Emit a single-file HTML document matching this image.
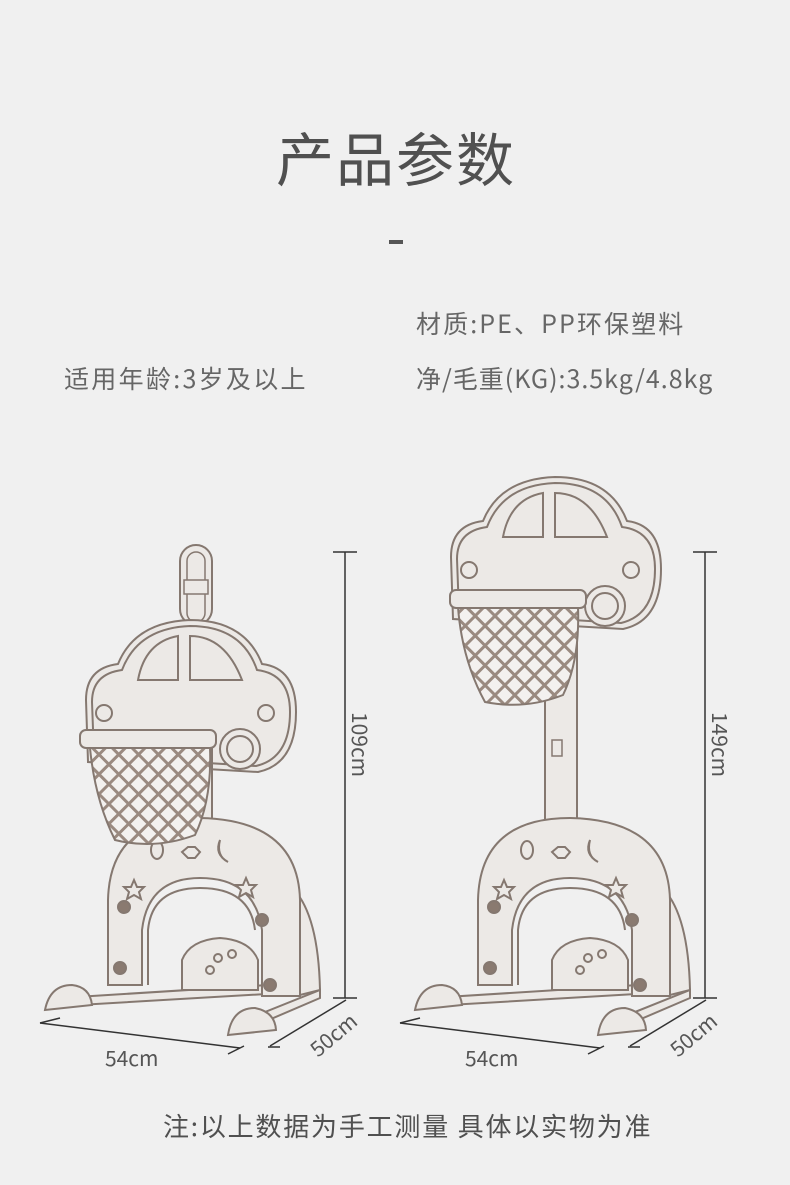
<!DOCTYPE html>
<html><head><meta charset="utf-8">
<style>
html,body{margin:0;padding:0;}
body{width:790px;height:1185px;background:#f0f0f0;position:relative;overflow:hidden;font-family:"Noto Sans CJK SC","Liberation Sans",sans-serif;color:#555;}
.t{position:absolute;white-space:nowrap;line-height:1.2;}
</style></head><body>
<div class="t" style="left:276px;top:122px;font-size:58px;color:#505050;letter-spacing:2px;">产品参数</div>
<div style="position:absolute;left:389px;top:240px;width:14px;height:4px;background:#555;"></div>
<div class="t" style="left:416px;top:308px;font-size:25px;color:#666;letter-spacing:2.1px;">材质:PE、PP环保塑料</div>
<div class="t" style="left:64px;top:363px;font-size:25px;color:#666;letter-spacing:2.3px;">适用年龄:3岁及以上</div>
<div class="t" style="left:416px;top:363px;font-size:25px;color:#666;letter-spacing:1px;">净/毛重(KG):3.5kg/4.8kg</div>
<div class="t" style="left:163px;top:1110px;font-size:26px;color:#505050;letter-spacing:1.8px;">注:以上数据为手工测量 具体以实物为准</div>

<svg width="790" height="1185" style="position:absolute;left:0;top:0" xmlns="http://www.w3.org/2000/svg">
<defs>
<pattern id="net" width="14" height="14" patternUnits="userSpaceOnUse" patternTransform="rotate(45)">
<rect width="14" height="14" fill="#f3f1ef"/>
<rect x="0" y="0" width="14" height="3" fill="#9a8a80"/>
<rect x="0" y="0" width="3" height="14" fill="#9a8a80"/>
</pattern>
<g id="car" fill="#ece9e6" stroke="#857870" stroke-width="2">
<path d="M88,762 L86,700 Q86,668 118,664 Q135,622 190,620 Q245,620 262,664 Q296,668 296,712 Q296,764 258,772 Z"/>
<path d="M94,756 L92,702 Q92,674 122,670 Q138,628 190,626 Q242,626 257,670 Q290,674 290,712 Q290,758 256,766 Z" fill="none"/>
<path d="M138,680 Q145,642 178,636 L178,680 Z"/>
<path d="M190,636 Q225,636 242,680 L190,680 Z"/>
<circle cx="240" cy="749" r="20"/><circle cx="240" cy="749" r="13"/>
<circle cx="104" cy="713" r="8"/><circle cx="266" cy="713" r="8"/>
</g>
<g id="base" fill="#ece9e6" stroke="#857870" stroke-width="2">
<path d="M60,998 L300,983 L300,992 L62,1006 Z"/>
<path d="M245,1020 L320,990 L320,998 L250,1028 Z"/>
<path d="M282,880 Q318,900 320,990 L300,995 Z"/>
<path d="M108,985 L108,900 Q110,818 200,818 Q298,820 300,900 L300,996 L262,996 L262,930 Q255,878 200,878 Q148,878 142,930 L142,985 Z"/>
<path d="M148,985 L148,930 Q152,888 200,888 Q250,888 255,930" fill="none"/>
<path d="M182,960 Q190,940 220,938 Q250,940 258,960 L258,990 L182,990 Z"/>
<circle cx="124" cy="907" r="6" fill="#8a7a70"/><circle cx="120" cy="968" r="6" fill="#8a7a70"/>
<circle cx="262" cy="920" r="6" fill="#8a7a70"/><circle cx="270" cy="985" r="6" fill="#8a7a70"/>
<circle cx="218" cy="958" r="4"/><circle cx="232" cy="954" r="4"/><circle cx="210" cy="970" r="4"/>
<path d="M134,880 l3,7 7,0 -5,5 2,7 -7,-4 -7,4 2,-7 -5,-5 7,0 Z"/>
<path d="M246,878 l3,7 7,0 -5,5 2,7 -7,-4 -7,4 2,-7 -5,-5 7,0 Z"/>
<ellipse cx="157" cy="850" rx="6" ry="9"/>
<path d="M182,852 l6,-5 7,0 5,5 -5,6 -7,0 Z"/>
<path d="M220,840 q-6,14 8,22 q-12,-6 -8,-22 Z"/>
<path d="M45,1010 Q50,985 72,985 Q90,987 92,1005 Z"/>
<path d="M228,1035 Q232,1008 255,1008 Q275,1012 276,1030 Z"/>
</g>
</defs>

<!-- LEFT -->
<rect x="180" y="545" width="32" height="80" rx="16" fill="#ece9e6" stroke="#857870" stroke-width="2"/>
<rect x="187" y="552" width="18" height="70" rx="9" fill="none" stroke="#857870" stroke-width="1.5"/>
<rect x="184" y="580" width="24" height="14" fill="#ece9e6" stroke="#857870" stroke-width="1.5"/>
<use href="#car"/>
<rect x="200" y="740" width="12" height="90" fill="#ece9e6" stroke="#857870" stroke-width="2"/>
<use href="#base"/>
<path d="M90,748 L210,748 Q212,800 195,835 Q155,850 115,840 Q95,800 90,748 Z" fill="url(#net)" stroke="#857870" stroke-width="2"/>
<rect x="80" y="730" width="136" height="18" rx="6" fill="#ece9e6" stroke="#857870" stroke-width="2"/>

<!-- RIGHT -->
<use href="#car" transform="translate(365,-143)"/>
<rect x="545" y="610" width="32" height="215" fill="#ece9e6" stroke="#857870" stroke-width="2"/>
<rect x="552" y="740" width="10" height="16" fill="#ece9e6" stroke="#857870" stroke-width="1.5"/>
<use href="#base" transform="translate(370,0)"/>
<path d="M458,607 L578,607 Q580,660 563,695 Q525,710 485,702 Q462,660 458,607 Z" fill="url(#net)" stroke="#857870" stroke-width="2"/>
<rect x="450" y="590" width="136" height="18" rx="6" fill="#ece9e6" stroke="#857870" stroke-width="2"/>

<!-- dims -->
<g stroke="#333" stroke-width="1.5" fill="none">
<line x1="345" y1="552" x2="345" y2="998"/><line x1="333" y1="552" x2="357" y2="552"/><line x1="333" y1="998" x2="357" y2="998"/>
<line x1="705" y1="552" x2="705" y2="998"/><line x1="693" y1="552" x2="717" y2="552"/><line x1="693" y1="998" x2="717" y2="998"/>
<line x1="40" y1="1023" x2="240" y2="1048"/><line x1="228" y1="1054" x2="244" y2="1046"/><line x1="40" y1="1023" x2="60" y2="1018"/>
<line x1="270" y1="1046" x2="346" y2="1000"/><line x1="268" y1="1047" x2="280" y2="1047"/>
<line x1="400" y1="1023" x2="600" y2="1048"/><line x1="588" y1="1054" x2="604" y2="1046"/><line x1="400" y1="1023" x2="420" y2="1018"/>
<line x1="630" y1="1046" x2="706" y2="1000"/><line x1="628" y1="1047" x2="640" y2="1047"/>
</g>
<g font-family="Noto Sans CJK SC, Liberation Sans, sans-serif" font-size="21" fill="#555">
<text x="105" y="1066">54cm</text>
<text x="465" y="1066">54cm</text>
<text transform="translate(352,712) rotate(90)">109cm</text>
<text transform="translate(712,712) rotate(90)">149cm</text>
<text transform="translate(318,1058) rotate(-40)">50cm</text>
<text transform="translate(678,1058) rotate(-40)">50cm</text>
</g>
</svg>
</body></html>
